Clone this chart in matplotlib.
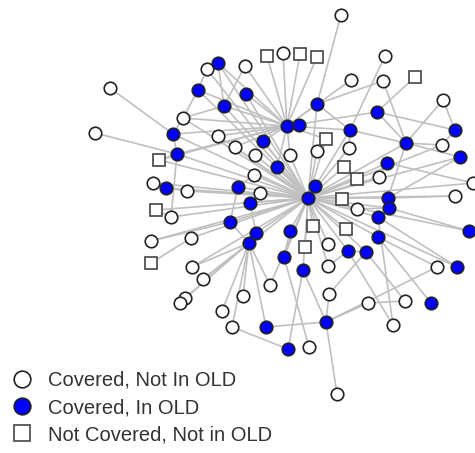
import matplotlib as mpl
import matplotlib.pyplot as plt
from matplotlib.collections import LineCollection
from matplotlib.lines import Line2D

# node layout (pixel-like layout coordinates, y grows downward)
circ_x = [341, 283, 385, 351, 383, 443, 110, 95, 207, 245, 183, 218, 235, 255, 290, 317,
          349, 442, 254, 260, 379, 473, 455, 357, 153, 187, 171, 151, 191, 192, 203, 185,
          180, 222, 232, 243, 270, 328, 328, 329, 368, 405, 393, 437, 309, 337]
circ_y = [15, 53, 56, 80, 81, 100, 88, 133, 69, 66, 118, 136, 147, 155, 155, 151,
          148, 145, 175, 193, 177, 183, 196, 209, 183, 191, 217, 241, 238, 267, 279, 298,
          303, 311, 327, 296, 285, 244, 266, 294, 303, 301, 325, 267, 347, 394]

blue_x = [218, 198, 246, 224, 173, 177, 263, 287, 299, 317, 377, 350, 406, 455, 460, 277,
          387, 315, 308, 166, 238, 250, 230, 256, 249, 290, 388, 389, 378, 378, 469, 348,
          366, 284, 303, 457, 431, 266, 326, 288]
blue_y = [63, 90, 94, 106, 134, 154, 141, 126, 125, 104, 112, 130, 143, 130, 157, 167,
          163, 186, 198, 188, 187, 203, 222, 233, 243, 231, 198, 208, 217, 237, 231, 251,
          252, 257, 270, 267, 303, 327, 322, 349]

sq_x = [267, 300, 317, 415, 326, 159, 344, 357, 342, 156, 313, 346, 305, 151]
sq_y = [56, 54, 57, 77, 139, 160, 167, 179, 199, 210, 226, 229, 247, 263]

hub_links = ['b18', 'b16', 'c15', 'c16', 's5', 'b12', 'c17', 's7', 's8', 'c21', 'b17',
             'b27', 'b28', 'b29', 's9', 'c24', 's12', 's11', 'c38', 's13', 'b26', 'b24',
             'b23', 'b22', 'b21', 'c20', 'c19', 'c14', 'b7', 'c13', 'c12', 'b4', 'b3',
             'b2', 'b1', 'c9', 'b5', 'b6', 's6', 'c11', 'c25', 'b20', 'c26', 'c27',
             's10', 'c28', 'c29', 'c30', 'c31', 'c22', 'c23', 'b15', 'b31', 'b36',
             'c18', 'b13', 'b10', 'c37', 'b34', 'b35', 'c39', 'b32', 'b33', 'b30']
hub2_links = ['s1', 'c2', 's2', 's3', 'b3', 'b4', 'b2', 'b1', 'c10', 'b7', 'c11', 'b5',
              'b16', 'c15', 's5', 'b12', 'b11', 'c4', 'b10', 'c13', 'c12', 'b6', 's6']
hub3_links = ['c33', 'c32', 'c34', 'c35', 'c36', 'c37', 'b38', 'c31', 'c30', 'b23']
other_edges = [('c7', 'b5'), ('c8', 'b6'), ('c1', 'b10'), ('c11', 'b2'), ('c11', 'b4'),
               ('c9', 'b2'), ('b1', 'b4'), ('c10', 'b4'), ('b8', 'b9'), ('c3', 'b12'),
               ('s4', 'b11'), ('c5', 'b10'), ('c5', 'b13'), ('c6', 'b14'), ('c6', 'b13'),
               ('b11', 'b14'), ('b11', 'b13'), ('b12', 'b13'), ('b13', 'c18'),
               ('b13', 'b15'), ('b14', 'c18'), ('b13', 'b27'), ('c22', 'b17'),
               ('c23', 'b27'), ('b31', 'b28'), ('c21', 'b17'), ('b10', 'b12'),
               ('b36', 'b29'), ('c44', 'b30'), ('c44', 'b39'), ('c42', 'c41'),
               ('c41', 'b39'), ('c42', 'b33'), ('b37', 'b30'), ('c43', 'b32'),
               ('c43', 'b29'), ('b32', 'b33'), ('b35', 'b40'), ('c35', 'b40'),
               ('b34', 'c45'), ('b38', 'b39'), ('b39', 'c46'), ('b39', 'c40'),
               ('b35', 'b39'), ('c39', 'b32'), ('c40', 'b33'), ('c28', 'b23'),
               ('s14', 'c29'), ('b6', 'c27'), ('c25', 'b20'), ('c26', 'b20'),
               ('s10', 'c27'), ('s6', 'b6'), ('c11', 'b5'), ('b5', 'b6'), ('b21', 'c19'),
               ('c20', 'b22'), ('b22', 'b24'), ('b21', 'b23'), ('c17', 'b12'),
               ('c24', 'b28'), ('b24', 'b25'), ('b15', 'b27'), ('b26', 'b34')]

labels = ['Covered, Not In OLD', 'Covered, In OLD', 'Not Covered, Not in OLD']


def main():
    mpl.rcParams['font.family'] = ['Liberation Sans', 'DejaVu Sans']

    pos = {}
    for i in range(len(circ_x)):
        pos['c%d' % (i + 1)] = (circ_x[i], circ_y[i])
    for i in range(len(blue_x)):
        pos['b%d' % (i + 1)] = (blue_x[i], blue_y[i])
    for i in range(len(sq_x)):
        pos['s%d' % (i + 1)] = (sq_x[i], sq_y[i])

    edges = [('b19', n) for n in hub_links] + [('b8', n) for n in hub2_links]
    edges += [('b25', n) for n in hub3_links] + other_edges
    segs = [[pos[a], pos[b]] for a, b in edges]

    fig = plt.figure(figsize=(4.75, 4.53), dpi=100)
    ax = fig.add_axes([0, 0, 1, 1])
    ax.set_xlim(0, 475)
    ax.set_ylim(453, 0)
    ax.axis('off')

    lc = LineCollection(segs, colors='#c0c0c0', linewidths=1.2, zorder=1)
    ax.add_collection(lc)

    ms, mew = 9, 1.2
    ax.plot(circ_x, circ_y, 'o', ms=ms, mfc='white', mec='#222222', mew=mew, zorder=2)
    ax.plot(blue_x, blue_y, 'o', ms=ms, mfc='#0000ff', mec='#222222', mew=mew, zorder=3)
    ax.plot(sq_x, sq_y, 's', ms=ms, mfc='white', mec='#444444', mew=mew, zorder=4)

    handles = [Line2D([], [], ls='', marker='o', ms=12, mfc='white', mec='#222222', mew=1.2),
               Line2D([], [], ls='', marker='o', ms=12, mfc='#0000ff', mec='#222222', mew=1.2),
               Line2D([], [], ls='', marker='s', ms=11, mfc='white', mec='#444444', mew=1.2)]
    ax.legend(handles, labels, loc='upper left', bbox_to_anchor=(0.026, 0.182),
              frameon=False, fontsize=14.5, borderpad=0, borderaxespad=0,
              handlelength=0.97, handletextpad=0.82, labelspacing=0.42,
              labelcolor='#333333')

    plt.savefig('out.png', dpi=100)


main()
